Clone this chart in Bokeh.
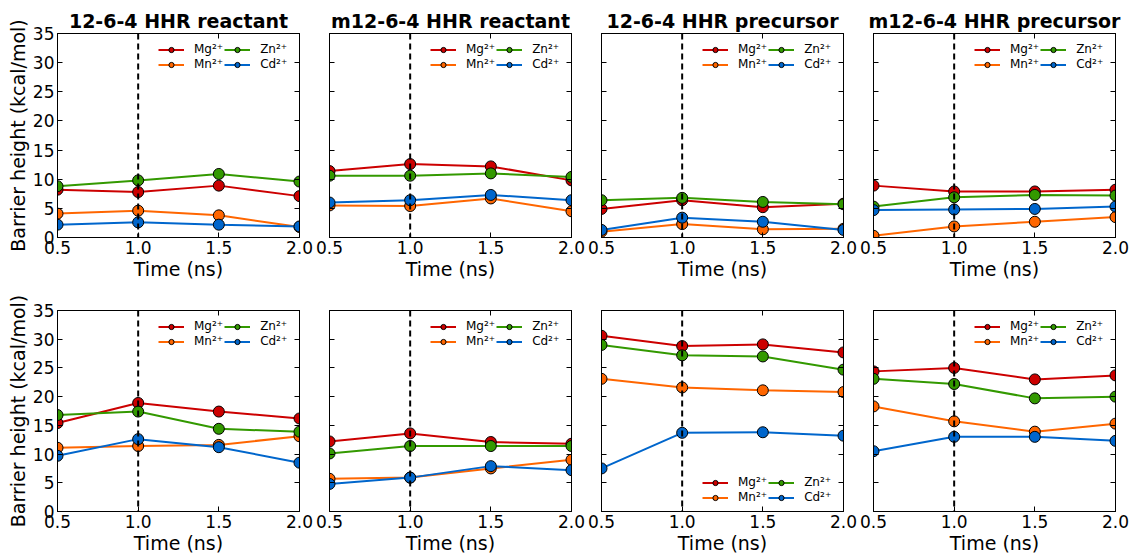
from bokeh.plotting import figure
from bokeh.layouts import gridplot
from bokeh.models import Span, LinearAxis, FixedTicker, PrintfTickFormatter, Range1d, Legend, LegendItem
from bokeh.embed import file_html
from bokeh.resources import INLINE

FONT = "DejaVu Sans"

times = [0.5, 1.0, 1.5, 2.0]
cut_time = 1.0
x_ticks = [0.5, 1.0, 1.5, 2.0]
y_ticks = [0, 5, 10, 15, 20, 25, 30, 35]
ion_labels = ["Mg²⁺", "Mn²⁺", "Zn²⁺", "Cd²⁺"]
ion_colors = ["#cc0000", "#ff6600", "#339900", "#0066cc"]
titles = ["12-6-4 HHR reactant", "m12-6-4 HHR reactant",
          "12-6-4 HHR precursor", "m12-6-4 HHR precursor"]

# top row
a1_mg = [8.2, 7.8, 8.9, 7.1]
a1_mn = [4.1, 4.6, 3.8, 1.8]
a1_zn = [8.8, 9.8, 10.9, 9.6]
a1_cd = [2.2, 2.6, 2.2, 1.9]

a2_mg = [11.4, 12.6, 12.2, 9.8]
a2_mn = [5.5, 5.4, 6.7, 4.5]
a2_zn = [10.6, 10.6, 11.0, 10.4]
a2_cd = [6.0, 6.4, 7.3, 6.4]

a3_mg = [4.9, 6.4, 5.2, 5.8]
a3_mn = [1.0, 2.3, 1.4, 1.5]
a3_zn = [6.4, 6.8, 6.1, 5.7]
a3_cd = [1.3, 3.4, 2.7, 1.3]

a4_mg = [8.9, 7.9, 7.9, 8.2]
a4_mn = [0.3, 1.9, 2.7, 3.5]
a4_zn = [5.3, 6.9, 7.3, 7.2]
a4_cd = [4.7, 4.8, 4.9, 5.3]

# bottom row
b1_mg = [15.4, 18.9, 17.4, 16.2]
b1_mn = [11.1, 11.4, 11.6, 13.1]
b1_zn = [16.8, 17.4, 14.4, 13.9]
b1_cd = [9.7, 12.6, 11.2, 8.5]

b2_mg = [12.2, 13.6, 12.1, 11.8]
b2_mn = [5.7, 5.9, 7.5, 9.0]
b2_zn = [10.1, 11.4, 11.4, 11.4]
b2_cd = [4.8, 5.9, 7.9, 7.2]

b3_mg = [30.6, 28.8, 29.1, 27.7]
b3_mn = [23.1, 21.6, 21.1, 20.8]
b3_zn = [29.0, 27.2, 27.0, 24.7]
b3_cd = [7.5, 13.7, 13.8, 13.2]

b4_mg = [24.4, 25.0, 23.0, 23.7]
b4_mn = [18.3, 15.7, 13.9, 15.3]
b4_zn = [23.1, 22.2, 19.7, 20.0]
b4_cd = [10.5, 13.0, 13.0, 12.3]

panels = [
    [a1_mg, a1_mn, a1_zn, a1_cd], [a2_mg, a2_mn, a2_zn, a2_cd],
    [a3_mg, a3_mn, a3_zn, a3_cd], [a4_mg, a4_mn, a4_zn, a4_cd],
    [b1_mg, b1_mn, b1_zn, b1_cd], [b2_mg, b2_mn, b2_zn, b2_cd],
    [b3_mg, b3_mn, b3_zn, b3_cd], [b4_mg, b4_mn, b4_zn, b4_cd],
]


def style_axis(ax, show_labels, tick_size="17px"):
    ax.axis_line_color = "black"
    ax.axis_line_width = 1
    ax.major_tick_in = 5
    ax.major_tick_out = 0
    ax.minor_tick_line_color = None
    ax.major_tick_line_color = "black"
    ax.major_label_text_font = FONT
    ax.major_label_standoff = 3
    if show_labels:
        ax.major_label_text_font_size = tick_size
        ax.major_label_text_color = "black"
    else:
        ax.major_label_text_font_size = "1px"
        ax.major_label_text_color = None
        ax.major_label_standoff = 0
    ax.axis_label_text_font = FONT
    ax.axis_label_text_font_size = "19px"
    ax.axis_label_text_font_style = "normal"
    ax.axis_label_text_color = "black"
    ax.axis_label_standoff = 1


def make_panel(idx):
    top = idx < 4
    col = idx % 4
    fh = 204 if top else 201
    p = figure(
        frame_width=242, frame_height=fh,
        x_range=Range1d(0.5, 2.0), y_range=Range1d(0, 35),
        output_backend="svg", toolbar_location=None,
        title=titles[col] if top else None,
        min_border_left=57 if col == 0 else 15,
        min_border_right=15,
        min_border_top=33 if top else 18,
        min_border_bottom=55 if top else 30,
    )
    p.background_fill_color = "white"
    p.border_fill_color = "white"
    p.outline_line_color = "black"
    p.outline_line_width = 1
    p.xgrid.visible = False
    p.ygrid.visible = False
    if top:
        p.title.text_font = FONT
        p.title.text_font_size = "19px"
        p.title.text_font_style = "bold"
        p.title.align = "center"
        p.title.standoff = 4
        p.title.text_color = "black"

    p.xaxis.ticker = FixedTicker(ticks=x_ticks)
    p.xaxis.formatter = PrintfTickFormatter(format="%.1f")
    p.yaxis.ticker = FixedTicker(ticks=y_ticks)
    p.yaxis.formatter = PrintfTickFormatter(format="%d")
    p.xaxis.axis_label = "Time (ns)"
    style_axis(p.xaxis[0], True)
    style_axis(p.yaxis[0], col == 0)
    if col == 0:
        p.yaxis.axis_label = "Barrier height (kcal/mol)"

    ax_top = LinearAxis(ticker=FixedTicker(ticks=x_ticks))
    style_axis(ax_top, False)
    p.add_layout(ax_top, "above")
    ax_right = LinearAxis(ticker=FixedTicker(ticks=y_ticks))
    style_axis(ax_right, False)
    p.add_layout(ax_right, "right")

    p.add_layout(Span(location=cut_time, dimension="height", line_color="black",
                      line_width=2, line_dash="6 4"))

    items = []
    for vals, lab, colr in zip(panels[idx], ion_labels, ion_colors):
        r_line = p.line(times, vals, line_color=colr, line_width=2)
        r_pts = p.scatter(times, vals, size=11, fill_color=colr, line_color="black",
                          line_width=1)
        items.append(LegendItem(label=lab, renderers=[r_line, r_pts]))

    leg_loc = (99, 5) if idx == 6 else (99, fh - 40)
    leg = Legend(items=items, ncols=2, orientation="vertical", location=leg_loc)
    leg.background_fill_alpha = 0
    leg.border_line_alpha = 0
    leg.label_text_font = FONT
    leg.label_text_font_size = "12px"
    leg.label_text_color = "black"
    leg.glyph_width = 26
    leg.glyph_height = 13
    leg.label_height = 13
    leg.label_standoff = 10
    leg.spacing = 1
    leg.padding = 2
    leg.margin = 0
    p.add_layout(leg, "center")
    return p


figs = [make_panel(i) for i in range(8)]
grid = gridplot([figs[:4], figs[4:]], toolbar_location=None)

open("out.html", "w").write(file_html(grid, INLINE))
